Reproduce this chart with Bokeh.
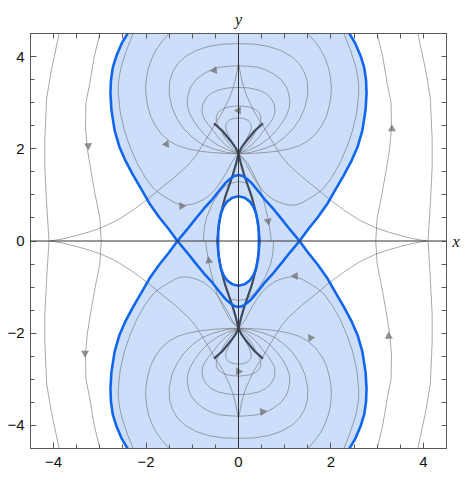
import numpy as np
from bokeh.plotting import figure
from bokeh.models import Range1d, LinearAxis, FixedTicker, Span
from bokeh.embed import file_html
from bokeh.resources import INLINE

# ---------------- data (upper-right quadrant unless noted) -------------
# blue separatrix: outer teardrop (top -> saddle) and inner diamond edge (saddle -> axis)
td_x = [2.40, 2.53, 2.64, 2.72, 2.76, 2.77, 2.75, 2.68, 2.58, 2.45, 2.28, 2.10, 1.93, 1.72, 1.52, 1.32]
td_y = [4.50, 4.28, 4.02, 3.76, 3.48, 3.20, 2.85, 2.40, 2.05, 1.75, 1.43, 1.12, 0.82, 0.52, 0.27, 0.00]
dm_x = [1.32, 1.12, 0.93, 0.75, 0.56, 0.42, 0.28, 0.18, 0.09, 0.00]
dm_y = [0.00, 0.24, 0.48, 0.70, 0.91, 1.09, 1.26, 1.35, 1.41, 1.43]
# blue inner oval (quarter)
ov_x = [0.44, 0.44, 0.42, 0.38, 0.32, 0.24, 0.13, 0.00]
ov_y = [0.00, 0.20, 0.40, 0.60, 0.75, 0.86, 0.94, 0.97]
# dark lens (quarter) and dark branch
ln_x = [0.00, 0.06, 0.13, 0.21, 0.28, 0.34, 0.39, 0.43, 0.46]
ln_y = [1.89, 1.65, 1.41, 1.18, 0.98, 0.76, 0.54, 0.30, 0.00]
br_x = [0.00, 0.06, 0.17, 0.35, 0.53]
br_y = [1.89, 2.02, 2.17, 2.39, 2.55]

# gray streamlines (upper-right quadrant, mirrored to the others)
F1_x = [2.97, 3.00, 3.10, 3.18, 3.27, 3.31, 3.30, 3.22, 3.12, 3.00]
F1_y = [0.00, 0.50, 1.00, 1.45, 2.00, 2.46, 3.00, 3.40, 4.00, 4.50]
F2_x = [4.10, 4.15, 4.19, 4.19, 4.15, 4.05, 3.88]
F2_y = [0.00, 0.80, 1.60, 2.20, 3.10, 3.70, 4.50]
S_x = [4.07, 3.78, 3.50, 3.22, 2.96, 2.62, 2.31, 1.97, 1.66, 1.36, 1.08, 0.92, 0.80, 0.65, 0.52,
       0.42, 0.33, 0.26, 0.19, 0.13, 0.08, 0.04, 0.00]
S_y = [0.00, 0.05, 0.12, 0.20, 0.29, 0.45, 0.65, 0.90, 1.16, 1.40, 1.66, 1.85, 2.05, 2.29, 2.52,
       2.67, 2.82, 2.97, 3.12, 3.28, 3.45, 3.64, 3.86]
N_x = [0.00, 0.08, 0.15, 0.22, 0.30, 0.40, 0.50, 0.62, 0.75, 0.88, 1.00, 1.12, 1.23, 1.36, 1.50,
       1.68, 1.85, 2.03, 2.20, 2.35, 2.47, 2.56, 2.60, 2.60, 2.58, 2.55, 2.50, 2.40, 2.28]
N_y = [1.89, 1.80, 1.70, 1.56, 1.42, 1.26, 1.12, 1.00, 0.90, 0.84, 0.80, 0.78, 0.78, 0.82, 0.90,
       1.01, 1.15, 1.40, 1.70, 2.05, 2.40, 2.80, 3.20, 3.40, 3.55, 3.72, 3.90, 4.20, 4.50]
A2_x = [0.00, 0.30, 0.60, 0.85, 1.10, 1.32, 1.50, 1.67, 1.80, 1.90, 1.97, 2.00, 2.01, 1.99, 1.95,
        1.88, 1.78, 1.65, 1.50]
A2_y = [1.89, 1.90, 1.92, 1.95, 2.00, 2.07, 2.17, 2.32, 2.50, 2.70, 2.95, 3.15, 3.33, 3.55, 3.75,
        3.95, 4.15, 4.33, 4.50]
E1_x = [0.00, 0.25, 0.55, 0.80, 1.00, 1.18, 1.33, 1.44, 1.50, 1.49, 1.43, 1.32, 1.15, 0.92, 0.65, 0.33, 0.00]
E1_y = [1.89, 1.92, 2.00, 2.10, 2.25, 2.43, 2.65, 2.90, 3.19, 3.45, 3.65, 3.84, 4.00, 4.13, 4.22, 4.27, 4.28]
E2_x = [0.00, 0.22, 0.45, 0.65, 0.82, 0.95, 1.05, 1.10, 1.11, 1.08, 1.03, 0.92, 0.75, 0.57, 0.40, 0.20, 0.00]
E2_y = [1.89, 1.97, 2.08, 2.22, 2.40, 2.57, 2.75, 2.90, 3.05, 3.22, 3.35, 3.50, 3.63, 3.72, 3.77, 3.79, 3.80]
E3_x = [0.00, 0.15, 0.30, 0.44, 0.55, 0.66, 0.74, 0.78, 0.79, 0.77, 0.70, 0.59, 0.45, 0.23, 0.00]
E3_y = [1.89, 1.98, 2.10, 2.25, 2.40, 2.53, 2.65, 2.75, 2.85, 2.97, 3.10, 3.20, 3.27, 3.32, 3.33]
E4_x = [0.00, 0.09, 0.18, 0.28, 0.36, 0.43, 0.48, 0.48, 0.45, 0.37, 0.25, 0.12, 0.00]
E4_y = [1.89, 1.98, 2.08, 2.21, 2.35, 2.48, 2.60, 2.70, 2.78, 2.85, 2.90, 2.92, 2.93]
E5_x = [0.00, 0.05, 0.10, 0.16, 0.22, 0.26, 0.28, 0.26, 0.20, 0.10, 0.00]
E5_y = [1.89, 1.98, 2.08, 2.19, 2.30, 2.39, 2.48, 2.56, 2.62, 2.66, 2.67]
# streamlines present only once per half (lower half = point reflection)
K_x = [0.00, 0.10, 0.21, 0.34, 0.46, 0.54, 0.60, 0.64, 0.66, 0.69, 0.71]
K_y = [1.89, 1.80, 1.67, 1.42, 1.16, 0.90, 0.65, 0.48, 0.35, 0.18, 0.00]
R_x = [-0.76, -0.74, -0.69, -0.58, -0.44, -0.32, -0.19, 0.00, 0.15]
R_y = [0.00, 0.30, 0.51, 0.78, 1.01, 1.16, 1.25, 1.29, 1.26]

# arrows on the upper half (heading in degrees); lower half = point reflection
ar_x = [-3.25, 3.32, -0.52, 0.00, -1.56, -1.23, 0.64]
ar_y = [2.07, 2.43, 3.70, 2.83, 2.10, 0.76, 0.43]
ar_h = [-85, 90, 188, 180, -55, 0, -80]

major_ticks = [-4, -2, 0, 2, 4]
minor_ticks = [-4.5, -4, -3.5, -3, -2.5, -2, -1.5, -1, -0.5, 0, 0.5, 1, 1.5, 2, 2.5, 3, 3.5, 4, 4.5]

# ---------------- helpers ----------------
def neg(a):
    return [-v for v in a]

def four(xs, ys):
    return [(xs, ys), (neg(xs), ys), (neg(xs), neg(ys)), (xs, neg(ys))]

# ---------------- figure ----------------
p = figure(width=473, height=478, x_range=Range1d(-4.5, 4.5), y_range=Range1d(-4.5, 4.5),
           output_backend="svg", toolbar_location=None,
           x_axis_location=None, y_axis_location=None,
           min_border_left=30, min_border_right=27, min_border_top=33, min_border_bottom=30)
p.outline_line_color = "#5a5a5a"
p.background_fill_color = "white"
p.grid.visible = False

# fill: hourglass minus oval
ur_x, ur_y = td_x, td_y
lr_x, lr_y = td_x[::-1], neg(td_y[::-1])
ll_x, ll_y = neg(td_x), neg(td_y)
ul_x, ul_y = neg(td_x[::-1]), td_y[::-1]
outer_x = ur_x + lr_x[1:] + ll_x + ul_x[1:]
outer_y = ur_y + lr_y[1:] + ll_y + ul_y[1:]
hole_x = ov_x + neg(ov_x[::-1])[1:] + neg(ov_x)[1:] + ov_x[::-1][1:]
hole_y = ov_y + ov_y[::-1][1:] + neg(ov_y)[1:] + neg(ov_y[::-1])[1:]
p.multi_polygons(xs=[[[outer_x, hole_x]]], ys=[[[outer_y, hole_y]]],
                 fill_color="#cddefa", line_color=None)

# gray streamlines
sx, sy = [], []
for cx, cy in [(F1_x, F1_y), (F2_x, F2_y), (S_x, S_y), (N_x, N_y), (A2_x, A2_y),
               (E1_x, E1_y), (E2_x, E2_y), (E3_x, E3_y), (E4_x, E4_y), (E5_x, E5_y)]:
    for a, b in four(cx, cy):
        sx.append(a); sy.append(b)
for cx, cy in [(K_x, K_y), (R_x, R_y)]:
    sx.append(cx); sy.append(cy)
    sx.append(neg(cx)); sy.append(neg(cy))
p.multi_line(sx, sy, line_color="#6e6e6e", line_alpha=0.6, line_width=1)

# arrows
axs = ar_x + neg(ar_x)
ays = ar_y + neg(ar_y)
ahs = ar_h + [h + 180 for h in ar_h]
p.scatter(axs, ays, marker="triangle", size=8, angle=[np.deg2rad(h - 90) for h in ahs],
          fill_color="#6e6e6e", fill_alpha=0.75, line_color=None)

# dark lens and branches
dx, dy = [], []
lens_rx = ln_x + ln_x[::-1][1:]
lens_ry = ln_y + neg(ln_y[::-1])[1:]
dx += [lens_rx, neg(lens_rx)]
dy += [lens_ry, lens_ry]
for a, b in four(br_x, br_y):
    dx.append(a); dy.append(b)
p.multi_line(dx, dy, line_color="#3f4b5c", line_width=2.2)

# blue curves
u_x = td_x + dm_x[1:] + neg(dm_x[::-1])[1:] + neg(td_x[::-1])[1:]
u_y = td_y + neg(dm_y)[1:] + neg(dm_y[::-1])[1:] + td_y[::-1][1:]
p.multi_line([u_x, u_x, hole_x], [u_y, neg(u_y), hole_y], line_color="#1166f0", line_width=2.6)

# axes through origin
p.add_layout(Span(location=0, dimension="width", line_color="#333333", line_width=1))
p.add_layout(Span(location=0, dimension="height", line_color="#333333", line_width=1))

# frame axes
for loc in ["left", "below", "right", "above"]:
    if loc in ("left", "below"):
        ax = LinearAxis(ticker=FixedTicker(ticks=major_ticks, minor_ticks=minor_ticks))
        ax.major_tick_in = 6
        ax.minor_tick_in = 4
        ax.major_label_text_font = "Liberation Sans"
        ax.major_label_text_font_size = "15px"
        ax.major_label_text_color = "#111111"
        ax.major_label_standoff = 6 if loc == "left" else 8
    else:
        ax = LinearAxis(ticker=FixedTicker(ticks=[], minor_ticks=minor_ticks))
        ax.minor_tick_in = 5
        ax.axis_label = "x" if loc == "right" else "y"
        ax.axis_label_text_font = "Liberation Serif"
        ax.axis_label_text_font_style = "italic"
        ax.axis_label_text_font_size = "16px"
        ax.axis_label_text_color = "#111111"
        ax.axis_label_standoff = 6
        if loc == "right":
            ax.axis_label_orientation = "horizontal"
    ax.axis_line_color = "#5a5a5a"
    ax.major_tick_line_color = "#5a5a5a"
    ax.minor_tick_line_color = "#5a5a5a"
    ax.major_tick_out = 0
    ax.minor_tick_out = 0
    p.add_layout(ax, loc)

open("out.html", "w").write(file_html(p, INLINE))
